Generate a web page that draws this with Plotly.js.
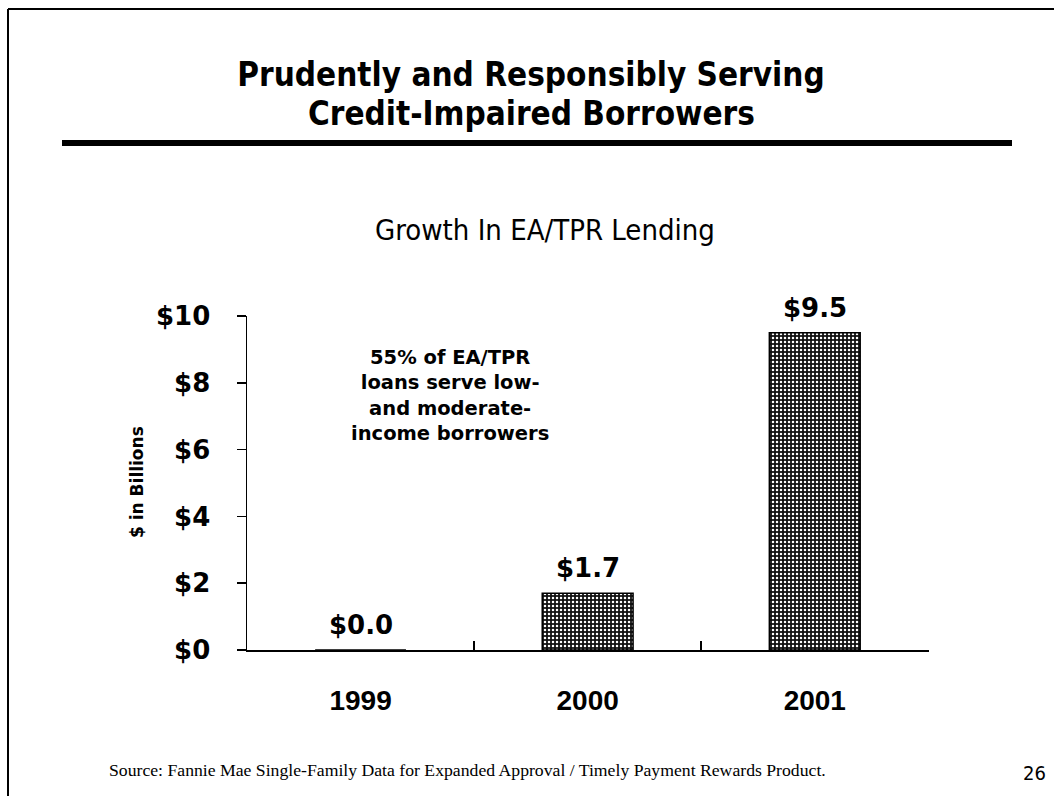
<!DOCTYPE html>
<html><head><meta charset="utf-8">
<script src="https://cdn.plot.ly/plotly-3.0.1.min.js"></script>
<style>html,body{margin:0;padding:0;background:#fff}#chart{width:1054px;height:796px}</style>
</head><body><div id="chart"></div>
<script>
const years = ['1999', '2000', '2001'];
const lending = [0.0, 1.7, 9.5];
const yTicks = [0, 2, 4, 6, 8, 10];
const titleLines = ['Prudently and Responsibly Serving', 'Credit-Impaired Borrowers'];
const chartTitle = 'Growth In EA/TPR Lending';
const yTitle = '$ in Billions';
const noteLines = ['55% of EA/TPR', 'loans serve low-', 'and moderate-', 'income borrowers'];
const sourceText = 'Source: Fannie Mae Single-Family Data for Expanded Approval / Timely Payment Rewards Product.';
const pageNumber = '26';

const W = 1054, H = 796, L = 247, R = 929, T = 316, B = 650;
const px = x => (x - L) / (R - L);
const py = y => (B - y) / (B - T);
const TAHOMA = 'DejaVu Sans Condensed, DejaVu Sans, sans-serif';
const VERDANA = 'DejaVu Sans, Verdana, sans-serif';
const ARIAL = 'Liberation Sans, Arial, sans-serif';

const trace = {
  type: 'bar', x: years, y: lending,
  marker: {
    color: '#000',
    line: {color: '#000', width: 1.5},
    pattern: {shape: '.', bgcolor: '#111', fgcolor: '#fff', size: 4, solidity: 0.3}
  },
  hoverinfo: 'skip'
};

const annotations = years.map((yr, i) => ({
  x: i, y: lending[i], xref: 'x', yref: 'y',
  text: '$' + lending[i].toFixed(1), showarrow: false,
  xanchor: 'center', yanchor: 'middle', yshift: 25,
  font: {family: VERDANA, size: 26, color: '#000', weight: 'bold'}
}));
annotations.push({
  xref: 'paper', yref: 'paper', x: px(531), y: py(113), xanchor: 'center', yanchor: 'middle',
  text: titleLines[1], showarrow: false,
  font: {family: TAHOMA, size: 33, color: '#000', weight: 'bold'}
});
annotations.push({
  xref: 'paper', yref: 'paper', x: px(545), y: py(230), xanchor: 'center', yanchor: 'middle',
  text: chartTitle, showarrow: false, font: {family: TAHOMA, size: 29, color: '#000'}
});
annotations.push({
  xref: 'paper', yref: 'paper', x: px(450), y: py(344), xanchor: 'center', yanchor: 'top',
  text: noteLines.join('<br>'), showarrow: false, align: 'center',
  font: {family: VERDANA, size: 19.5, color: '#000', weight: 'bold'}
});
annotations.push({
  xref: 'paper', yref: 'paper', x: px(137), y: py(482), xanchor: 'center', yanchor: 'middle',
  text: yTitle, showarrow: false, textangle: -90,
  font: {family: VERDANA, size: 17, color: '#000', weight: 'bold'}
});
annotations.push({
  xref: 'paper', yref: 'paper', x: px(107), y: py(770), xanchor: 'left', yanchor: 'middle',
  text: sourceText, showarrow: false, font: {family: 'Liberation Serif, Times New Roman, serif', size: 17.7, color: '#000'}
});
annotations.push({
  xref: 'paper', yref: 'paper', x: px(1034), y: py(773), xanchor: 'center', yanchor: 'middle',
  text: pageNumber, showarrow: false, font: {family: TAHOMA, size: 20, color: '#000'}
});

const shapes = [
  {type: 'rect', xref: 'paper', yref: 'paper', x0: px(62), x1: px(1012), y0: py(140), y1: py(146),
   fillcolor: '#000', line: {width: 0}},
  {type: 'line', xref: 'paper', yref: 'paper', x0: px(8), x1: px(1060), y0: py(9), y1: py(9),
   line: {color: '#000', width: 2}},
  {type: 'line', xref: 'paper', yref: 'paper', x0: px(8), x1: px(8), y0: py(9), y1: py(800),
   line: {color: '#000', width: 2}}
];

const layout = {
  width: W, height: H,
  margin: {l: L, r: W - R, t: T, b: H - B, pad: 0},
  paper_bgcolor: '#fff', plot_bgcolor: '#fff',
  showlegend: false,
  bargap: 0.6,
  title: {
    text: titleLines[0], x: px(531), xref: 'paper', xanchor: 'center',
    y: 1 - 74 / H, yref: 'container', yanchor: 'middle',
    font: {family: TAHOMA, size: 33, color: '#000', weight: 'bold'}
  },
  xaxis: {
    type: 'category', range: [-0.5, 2.503], fixedrange: true,
    showline: true, linecolor: '#000', linewidth: 1.5,
    ticks: 'inside', tickson: 'boundaries', ticklen: 9, tickcolor: '#000', tickwidth: 1.5,
    ticklabelstandoff: 25,
    tickfont: {family: ARIAL, size: 28, color: '#000', weight: 'bold'},
    showgrid: false, zeroline: false
  },
  yaxis: {
    range: [0, 10], fixedrange: true,
    tickvals: yTicks, ticktext: yTicks.map(v => '$' + v),
    showline: true, linecolor: '#000', linewidth: 1.5,
    ticks: 'outside', ticklen: 9, tickcolor: '#000', tickwidth: 1.5,
    ticklabelstandoff: 21,
    tickfont: {family: VERDANA, size: 26, color: '#000', weight: 'bold'},
    showgrid: false, zeroline: false
  },
  annotations: annotations,
  shapes: shapes
};

Plotly.newPlot('chart', [trace], layout, {displayModeBar: false, staticPlot: true});
</script>
</body></html>
